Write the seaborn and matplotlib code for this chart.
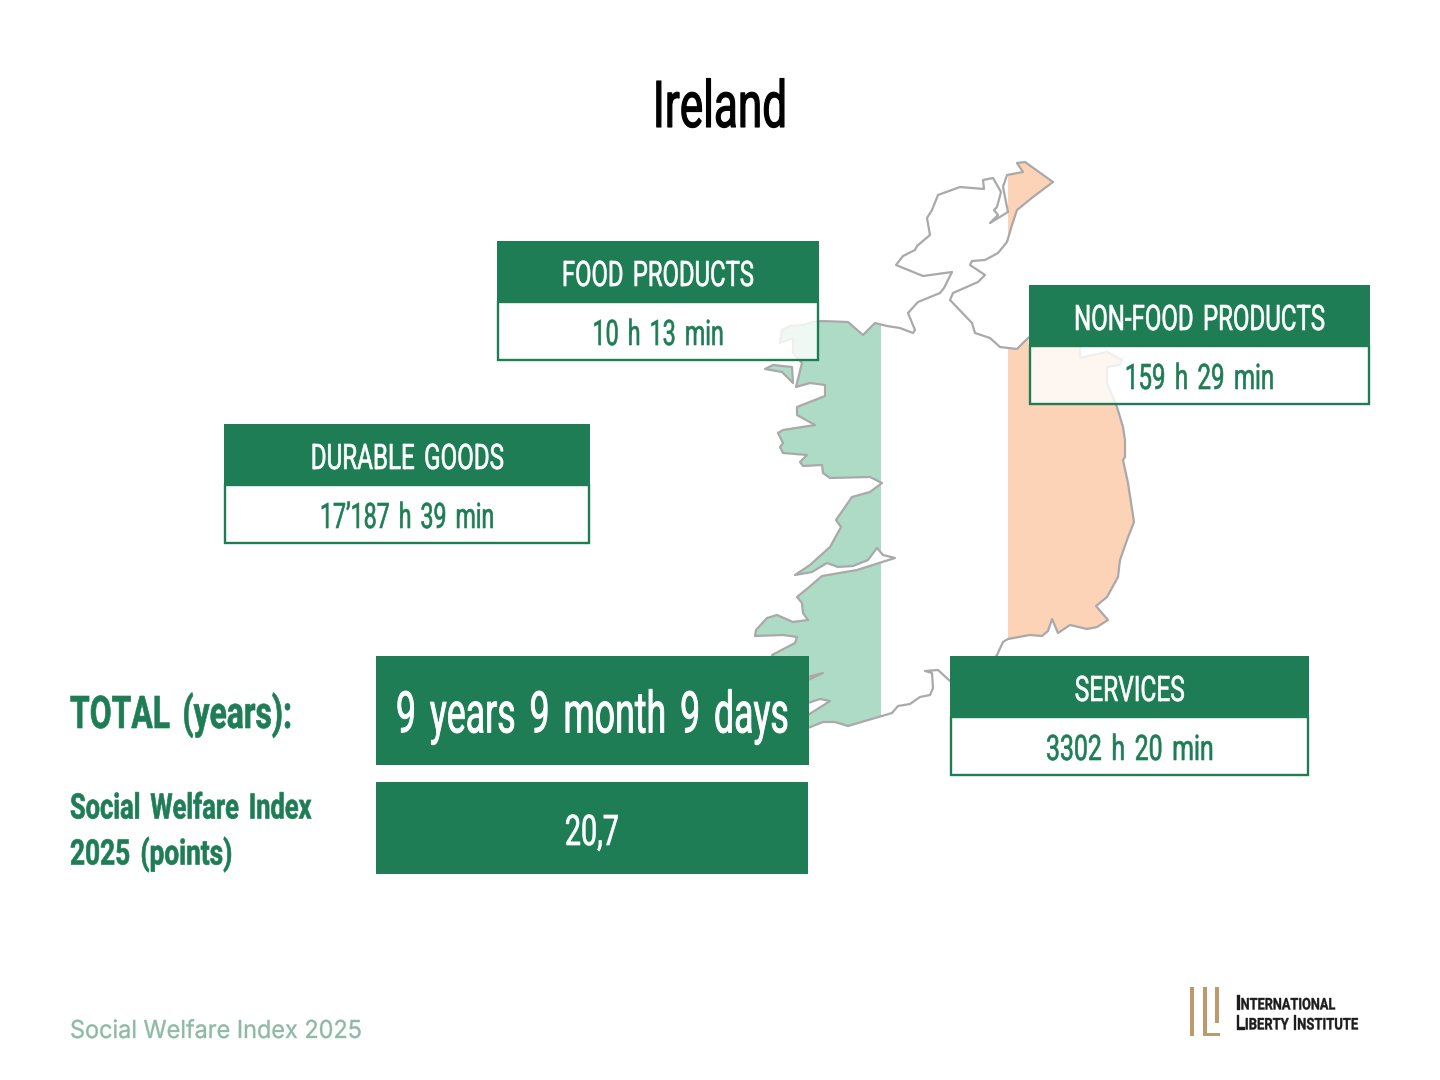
import matplotlib
matplotlib.use("Agg")
import numpy as np
import matplotlib.pyplot as plt
from matplotlib.patches import Polygon, Rectangle
from matplotlib.path import Path
from matplotlib.patheffects import AbstractPathEffect
from matplotlib.transforms import Affine2D
import seaborn as sns

# ---- data ----
TITLE = "Ireland"
CATEGORIES = ["FOOD PRODUCTS", "NON-FOOD PRODUCTS", "DURABLE GOODS", "SERVICES"]
VALUES = ["10 h 13 min", "159 h 29 min", "17\u2019187 h 39 min", "3302 h 20 min"]
TOTAL_LABEL = "TOTAL (years):"
TOTAL_VALUE = "9 years 9 month 9 days"
INDEX_LABEL = ["Social Welfare Index", "2025 (points)"]
INDEX_VALUE = "20,7"
FOOTER = "Social Welfare Index 2025"
LOGO_LINES = ["International", "Liberty Institute"]

MAINLAND = [
 (780,343),(782,330),(790,326),(803,325),(812,322),(822,321),(848,322),(863,335),(875,323),(887,326),(900,328),(913,333),
 (915,330),(908,313),(918,302),(940,293),(944,288),(952,272),(923,276),(896,265),(903,256),(915,250),(917,246),(930,235),
 (927,218),(932,210),(938,195),(960,187),(984,189),(983,180),(993,178),(1001,192),(997,207),(994,210),(998,215),(990,223),
 (1008,212),(1003,187),(1007,175),(1023,172),(1017,163),(1025,162),(1053,182),(1033,197),(1017,210),(1012,225),(1007,242),
 (998,253),(985,260),(972,261),(970,265),(985,275),(978,282),(953,293),(950,300),(972,323),(975,333),(990,338),(1000,347),
 (1017,349),(1028,338),(1040,330),(1080,335),(1080,347),(1080,358),(1107,352),(1122,360),(1120,365),(1107,367),(1107,383),
 (1117,407),(1123,427),(1125,440),(1125,457),(1123,460),(1128,483),(1134,522),(1127,540),(1120,560),(1118,577),(1107,597),
 (1096,606),(1108,620),(1097,627),(1087,629),(1070,625),(1058,633),(1052,619),(1048,631),(1042,636),(1030,635),(1008,639),
 (1003,642),(997,655),(985,670),(965,690),(950,681),(938,670),(925,671),(932,673),(933,688),(930,695),(920,697),(910,704),
 (898,706),(892,713),(848,726),(835,722),(823,722),(808,728),(795,730),(800,718),(808,715),(830,701),(820,699),(808,703),
 (790,700),(808,680),(823,673),(808,677),(790,670),(772,655),(795,643),(797,637),(783,635),(755,636),(756,630),(767,618),
 (777,615),(793,622),(808,620),(803,613),(802,603),(797,597),(808,588),(822,576),(857,570),(895,558),(883,555),(877,548),
 (868,560),(853,566),(838,567),(827,563),(812,572),(795,575),(810,565),(830,547),(841,527),(836,520),(852,497),(870,492),
 (882,483),(870,477),(830,478),(823,473),(822,465),(803,466),(800,462),(807,455),(783,453),(780,447),(783,443),(778,433),
 (783,430),(815,425),(797,415),(797,407),(825,396),(825,385),(810,383),(796,387),(802,363),(793,353),(793,338),
]
ISLAND = [(765,369),(773,365),(792,367),(793,383),(782,372)]

GREEN = "#1E7D55"
BAND_GREEN = "#AEDBC6"
BAND_ORANGE = "#FDD3B7"
OUTLINE = "#A9A9A9"
TAN = "#BC9A6C"
SANS = ["Roboto", "DejaVu Sans"]

sns.set_theme(style="white")
plt.rcParams["font.family"] = SANS
fig = plt.figure(figsize=(14.4, 10.8), dpi=100, facecolor="white")
ax = fig.add_axes([0, 0, 1, 1])
ax.set_xlim(0, 1440)
ax.set_ylim(1080, 0)
ax.axis("off")
renderer = fig.canvas.get_renderer()
PT_TO_PX = 100 / 72


def widen_spaces(path, extra, centre):
    """Shift whole words of a glyph path apart by extra font units per word gap."""
    if extra <= 0:
        return path
    verts = np.array(path.vertices, dtype=float)
    codes = np.array(path.codes)
    starts = list(np.where(codes == Path.MOVETO)[0]) + [len(verts)]
    spans = []
    for a, b in zip(starts[:-1], starts[1:]):
        mask = codes[a:b] != Path.CLOSEPOLY
        xs = verts[a:b, 0][mask]
        spans.append((xs.min(), xs.max(), a, b))
    spans.sort()
    shift, right, placed = 0.0, None, []
    for lo, hi, a, b in spans:
        if right is not None and lo - right > 29:
            shift += extra
        right = hi if right is None else max(right, hi)
        placed.append((a, b, shift))
    offset = shift / 2 if centre else 0.0
    for a, b, s in placed:
        verts[a:b, 0] += s - offset
    return Path(verts, codes)


class Tall(AbstractPathEffect):
    """Draw a text's glyphs taller from their baseline, optionally thickened."""
    def __init__(self, sy, stroke=0.0, extra=0.0, centre=False):
        super().__init__()
        self.sy, self.stroke, self.extra, self.centre = sy, stroke, extra, centre

    def draw_path(self, renderer, gc, tpath, affine, rgbFace=None):
        aff = Affine2D().scale(1, self.sy) + affine
        gc0 = renderer.new_gc()
        gc0.copy_properties(gc)
        gc0.set_linewidth(self.stroke)
        if rgbFace is not None:
            gc0.set_foreground(rgbFace)
        renderer.draw_path(gc0, widen_spaces(tpath, self.extra, self.centre), aff, rgbFace)
        gc0.restore()


def label(s, x, cy, width, cap, color, ha="center", weight="normal", family=None,
          stroke=0.45, ratio=0.711, extra=14.0):
    """Real text fitted to width px, its glyphs stretched up to cap px, caps centred on cy."""
    t = ax.text(x, cy + cap / 2, s, ha=ha, va="baseline", color=color, weight=weight,
                fontsize=20, zorder=6, family=family or SANS)
    w20 = t.get_window_extent(renderer).width
    spaced = w20 + s.count(" ") * extra / 100 * 20 * PT_TO_PX
    fs = 20 * width / spaced
    t.set_fontsize(fs)
    sy = cap / (ratio * fs * PT_TO_PX)
    t.set_path_effects([Tall(sy, stroke, extra, ha == "center")])
    return t


def logo_line(line, x, base, width, big=14.5, small=11.5, color="#1c1c1c"):
    """Small-caps line: larger initial, smaller remainder, fitted as a whole."""
    parts = []
    words = line.split(" ")
    for i, word in enumerate(words):
        parts.append((word[0].upper(), 20 * big / small, 0.0))
        parts.append((word[1:].upper(), 20, 8.0 if i < len(words) - 1 else 0.0))
    texts, widths, gaps = [], [], []
    for s, fs, gap in parts:
        t = ax.text(x, base, s, ha="left", va="baseline", color=color, weight="bold",
                    fontsize=fs, zorder=6, family=SANS)
        texts.append(t)
        widths.append(t.get_window_extent(renderer).width)
        gaps.append(gap)
    f = width / (sum(widths) + sum(gaps))
    sy = small / (0.711 * 20 * f * PT_TO_PX)
    cur = x
    for t, adv, gap in zip(texts, widths, gaps):
        t.set_x(cur)
        t.set_fontsize(t.get_fontsize() * f)
        t.set_path_effects([Tall(sy, 0.25)])
        cur += (adv + gap) * f


# map: flag bands clipped to the outline
for pts in (MAINLAND, ISLAND):
    clip = Polygon(pts, closed=True, transform=ax.transData, facecolor="white", edgecolor="none", zorder=1)
    ax.add_patch(clip)
    for x0, x1, c in ((700, 881, BAND_GREEN), (1008, 1200, BAND_ORANGE)):
        r = Rectangle((x0, 100), x1 - x0, 700, facecolor=c, edgecolor="none", zorder=2)
        ax.add_patch(r)
        r.set_clip_path(clip)
    ax.add_patch(Polygon(pts, closed=True, facecolor="none", edgecolor=OUTLINE, lw=1.6, zorder=3, joinstyle="round"))

# category cards
cards = [(497, 241, 322, 192, 131), (1029, 285, 341, 251, 149), (224, 424, 366, 193, 174), (950, 656, 359, 110, 167)]
for (x, y, w, hw, vw), cat, val in zip(cards, CATEGORIES, VALUES):
    ax.add_patch(Rectangle((x + 1, y + 61), w - 2, 59, facecolor="white", alpha=0.82, edgecolor="none", zorder=4))
    ax.add_patch(Rectangle((x + 1.2, y + 61), w - 2.4, 57.8, facecolor="none", edgecolor=GREEN, lw=1.7, zorder=5))
    ax.add_patch(Rectangle((x, y), w, 62, facecolor=GREEN, edgecolor="none", zorder=5))
    label(cat, x + w / 2, y + 32.5, hw, 25, "white")
    label(val, x + w / 2, y + 91.5, vw, 25, GREEN)

# totals
ax.add_patch(Rectangle((376, 656), 433, 109, facecolor=GREEN, edgecolor="none", zorder=5))
ax.add_patch(Rectangle((376, 782), 432, 92, facecolor=GREEN, edgecolor="none", zorder=5))
label(TOTAL_VALUE, 592.5, 712, 392, 41, "white", stroke=0.6)
label(INDEX_VALUE, 592, 830, 54, 30, "white", stroke=0.5)
label(TOTAL_LABEL, 70, 712, 221, 32, GREEN, ha="left", weight="bold")
label(INDEX_LABEL[0], 70, 806, 241, 25, GREEN, ha="left", weight="bold")
label(INDEX_LABEL[1], 70, 852, 162, 25, GREEN, ha="left", weight="bold")

# title, footer
label(TITLE, 720, 104, 134, 46, "black", stroke=0.8)
label(FOOTER, 70, 1029, 292, 18, "#8DB9A5", ha="left", family=["Inter", "Roboto"],
      stroke=0.25, ratio=0.727, extra=0.0)

# logo
for x, y, w, h in ((1190, 987, 3.5, 49), (1203, 987, 3.5, 49), (1203, 1032.5, 17, 3.5), (1215, 987, 3.5, 36)):
    ax.add_patch(Rectangle((x, y), w, h, facecolor=TAN, edgecolor="none", zorder=5))
logo_line(LOGO_LINES[0], 1236, 1009.5, 99)
logo_line(LOGO_LINES[1], 1236, 1029.5, 122)

fig.savefig("out.png", dpi=100, facecolor="white")
